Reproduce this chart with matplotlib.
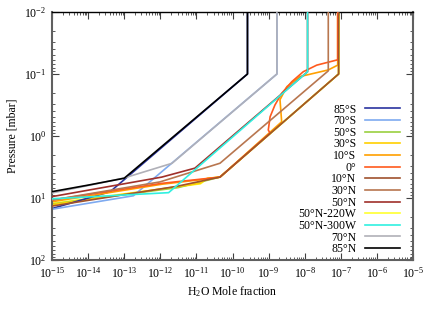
import matplotlib
matplotlib.use("Agg")
import matplotlib.pyplot as plt
from matplotlib.ticker import LogLocator, FixedLocator, NullFormatter

plt.rcParams['font.family'] = ['Liberation Serif', 'DejaVu Serif']
plt.rcParams['mathtext.fontset'] = 'custom'
plt.rcParams['mathtext.rm'] = 'Liberation Serif'
plt.rcParams['mathtext.it'] = 'Liberation Serif:italic'

# ---- data: (H2O mole fraction, pressure [mbar]) per latitude ----
labels = ['85°S', '70°S', '50°S', '30°S', '10°S', '0°', '10°N', '30°N', '50°N',
          '50°N-220W', '50°N-300W', '70°N', '85°N']
colors = ['#2a34a0', '#7eaaf0', '#9ad040', '#ffd000', '#ffa000', '#ff5a1e',
          '#a0522d', '#b8764f', '#a0302a', '#ffff30', '#30f0e0', '#b0b0b8', '#000000']

x_85S = [2.6e-10, 2.6e-10, 4.1e-14, 1e-15]
p_85S = [0.01, 0.1, 7.9, 14.8]
x_70S = [1.7e-9, 1.7e-9, 1.8e-13, 1e-15]
p_70S = [0.01, 0.1, 9.2, 15.2]
x_50S = [8.7e-8, 8.7e-8, 4.5e-11, 3.1e-12, 1e-15]
p_50S = [0.01, 0.1, 4.6, 6.8, 12.5]
x_30S = [8.7e-8, 8.7e-8, 4.5e-11, 2.0e-11, 1.26e-11, 1e-15]
p_30S = [0.01, 0.1, 4.6, 4.8, 5.8, 12.8]
x_10S = [8.2e-8, 8.2e-8, 4.5e-8, 7.4e-9, 3.2e-9, 2.07e-9, 2.3e-9, 4.5e-11, 1.2e-11, 1.1e-12, 1e-15]
p_10S = [0.01, 0.072, 0.086, 0.11, 0.16, 0.26, 0.59, 4.6, 5.1, 6.0, 11.5]
x_0 = [8.2e-8, 8.2e-8, 2.15e-8, 9.1e-9, 4.4e-9, 2.3e-9, 1.5e-9, 1.1e-9, 9.8e-10, 1.1e-9,
       4.5e-11, 1.2e-11, 1.1e-12, 1e-15]
p_0 = [0.01, 0.059, 0.072, 0.092, 0.133, 0.205, 0.316, 0.49, 0.80, 0.9,
       4.6, 5.0, 5.8, 10.8]
x_10N = [8.7e-8, 8.7e-8, 4.5e-11, 2.8e-12, 1e-15]
p_10N = [0.01, 0.1, 4.6, 6.5, 13.5]
x_30N = [4.5e-8, 4.5e-8, 4.5e-11, 9.8e-13, 1e-15]
p_30N = [0.01, 0.089, 2.75, 5.5, 10.8]
x_50N = [1.2e-8, 1.2e-8, 9.1e-12, 1.1e-12, 1e-15]
p_50N = [0.01, 0.092, 3.3, 4.6, 9.5]
x_50N220W = [8.7e-8, 8.7e-8, 4.5e-11, 2.0e-11, 1.3e-11, 1e-15]
p_50N220W = [0.01, 0.1, 4.6, 4.9, 5.9, 12.2]
x_50N300W = [1.2e-8, 1.2e-8, 1.7e-12, 1e-15]
p_50N300W = [0.01, 0.092, 8.2, 10.3]
x_70N = [1.7e-9, 1.7e-9, 2.1e-12, 1e-13, 1e-14, 1e-15]
p_70N = [0.01, 0.1, 2.76, 4.75, 6.3, 8.3]
x_85N = [2.6e-10, 2.6e-10, 1e-13, 1e-14, 1e-15]
p_85N = [0.01, 0.1, 4.8, 6.2, 7.9]

xs = [x_85S, x_70S, x_50S, x_30S, x_10S, x_0, x_10N, x_30N, x_50N, x_50N220W, x_50N300W, x_70N, x_85N]
ps = [p_85S, p_70S, p_50S, p_30S, p_10S, p_0, p_10N, p_30N, p_50N, p_50N220W, p_50N300W, p_70N, p_85N]
# drawing order (lines that are mostly hidden go underneath)
zorders = [2.3, 2.4, 2.05, 2.1, 2.5, 2.6, 2.7, 2.8, 2.9, 2.0, 3.0, 3.1, 3.2]

xtick_exps = list(range(-15, -4))
ytick_exps = [-2, -1, 0, 1, 2]

fig = plt.figure(figsize=(4.36, 3.12), dpi=100)
ax = fig.add_axes([52/436, 1-260/312, (413-52)/436, (260-12)/312])

for x, p, lab, c, z in zip(xs, ps, labels, colors, zorders):
    ax.plot(x, p, color=c, lw=1.2, label=lab, zorder=z)

ax.set_xscale('log')
ax.set_yscale('log')
ax.set_xlim(1e-15, 1e-5)
ax.set_ylim(1e2, 1e-2)

ax.xaxis.set_major_locator(FixedLocator([10.0**e for e in xtick_exps]))
ax.set_xticklabels([r'$10^{%d}$' % e for e in xtick_exps])
ax.yaxis.set_major_locator(FixedLocator([10.0**e for e in ytick_exps]))
ax.set_yticklabels([r'$10^{%d}$' % e for e in ytick_exps])
ax.xaxis.set_minor_locator(LogLocator(base=10, subs=range(2, 10), numticks=20))
ax.yaxis.set_minor_locator(LogLocator(base=10, subs=range(2, 10), numticks=20))
ax.xaxis.set_minor_formatter(NullFormatter())
ax.yaxis.set_minor_formatter(NullFormatter())

ax.tick_params(which='both', direction='in', top=True, right=True, labelsize=8.5,
               color='#404040')
ax.tick_params(which='major', length=5, width=0.8, pad=4)
ax.tick_params(which='minor', length=2.5, width=0.6)
for s in ax.spines.values():
    s.set_linewidth(1.5)
    s.set_color('#606060')
ax.spines['top'].set_color('#000000')
ax.spines['top'].set_linewidth(1.0)

ax.set_xlabel(r'H$_2$O Mole fraction', fontsize=8.5, labelpad=3)
ax.set_ylabel('Pressure [mbar]', fontsize=8.5, labelpad=4)

leg = ax.legend(loc='lower right', frameon=False, markerfirst=False, fontsize=8.5,
                handlelength=3.0, handletextpad=0.7, labelspacing=-0.03,
                borderaxespad=0.0, bbox_to_anchor=(0.977, 0.0))
for t in leg.get_texts():
    t.set_ha('right')

fig.savefig('out.png', dpi=100)
